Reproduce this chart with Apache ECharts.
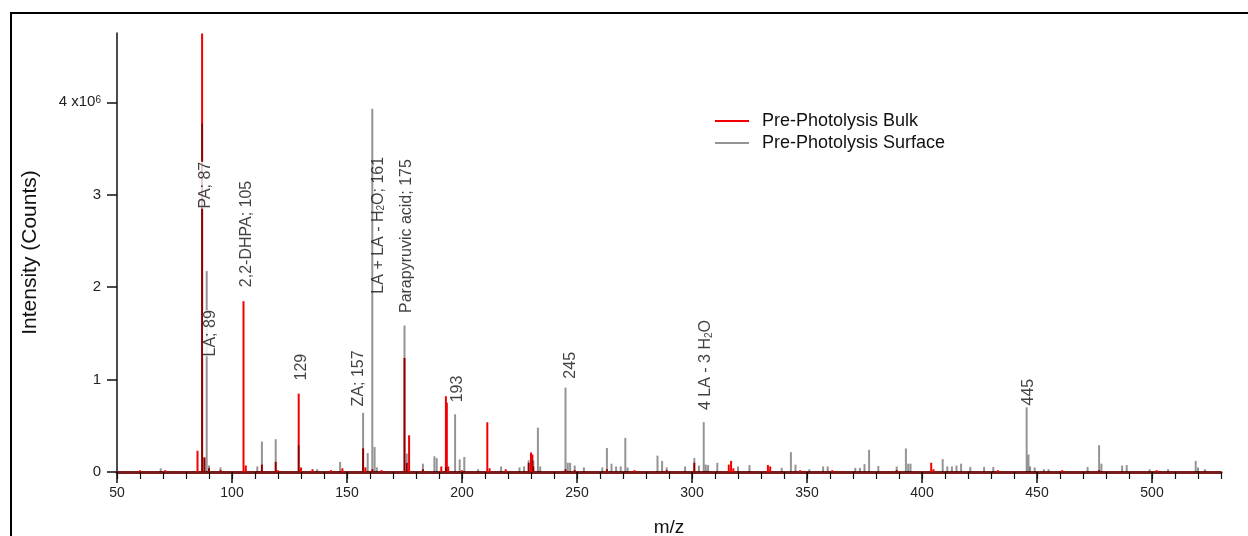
<!DOCTYPE html>
<html>
<head>
<meta charset="utf-8">
<title>Pre-Photolysis Bulk / Surface</title>
<script src="https://cdn.jsdelivr.net/npm/echarts@6/dist/echarts.min.js"></script>
<style>
  html, body { margin: 0; padding: 0; background: #fff; }
  #container { width: 1248px; height: 536px; }
</style>
</head>
<body>
<div id="container"></div>
<script>
// peaks as [m/z, intensity in 10^6 counts]
var bulkPeaks = [
  [60, 0.02], [71, 0.02], [85, 0.23], [87, 4.745], [88, 0.16], [90, 0.04], [95, 0.02],
  [105, 1.848], [106, 0.07], [113, 0.08], [119, 0.11], [120, 0.02], [129, 0.848], [130, 0.05],
  [135, 0.03], [143, 0.02], [148, 0.04], [157, 0.256], [158, 0.05], [161, 0.03], [165, 0.02],
  [175, 1.234], [176, 0.1], [177, 0.397], [183, 0.03], [191, 0.06], [193, 0.82], [193.4, 0.75],
  [194, 0.06], [200, 0.02], [211, 0.538], [212, 0.04], [219, 0.03], [229, 0.1], [230, 0.21],
  [230.6, 0.19], [231, 0.06], [245, 0.03], [249, 0.02], [263, 0.03], [275, 0.02], [289, 0.02],
  [301, 0.1], [316, 0.08], [317, 0.12], [318, 0.04], [333, 0.075], [334, 0.06], [347, 0.02],
  [361, 0.02], [389, 0.02], [404, 0.1], [405, 0.03], [433, 0.02], [461, 0.02], [477, 0.02], [502, 0.02]
];
var surfacePeaks = [
  [69, 0.04], [87, 3.77], [88, 0.15], [89, 2.175], [90, 0.07], [95, 0.05], [111, 0.06],
  [113, 0.33], [119, 0.355], [129, 0.29], [137, 0.03], [147, 0.11], [157, 0.64], [159, 0.205],
  [161, 3.93], [162, 0.27], [163, 0.05], [175, 1.585], [176, 0.2], [183, 0.09], [188, 0.17],
  [189, 0.15], [193, 0.05], [197, 0.625], [199, 0.137], [201, 0.163], [207, 0.03], [217, 0.06],
  [225, 0.05], [227, 0.06], [229, 0.127], [231, 0.126], [233, 0.48], [234, 0.06], [245, 0.913],
  [246, 0.1], [247, 0.1], [249, 0.07], [253, 0.05], [261, 0.05], [263, 0.26], [265, 0.09],
  [267, 0.06], [269, 0.06], [271, 0.37], [272, 0.05], [285, 0.177], [287, 0.12], [289, 0.05],
  [297, 0.06], [301, 0.15], [303, 0.07], [305.1, 0.54], [306, 0.08], [307, 0.075], [311, 0.1],
  [320, 0.06], [325, 0.075], [339, 0.045], [343, 0.215], [345, 0.08], [351, 0.03], [357, 0.06],
  [359, 0.06], [371, 0.045], [373, 0.045], [375, 0.085], [377, 0.24], [381, 0.065], [389, 0.06],
  [393, 0.255], [394, 0.09], [395, 0.09], [409, 0.14], [411, 0.06], [413, 0.06], [415, 0.07],
  [417, 0.09], [421, 0.055], [427, 0.055], [431, 0.055], [445.5, 0.7], [446.3, 0.19], [447, 0.06],
  [449, 0.05], [453, 0.03], [455, 0.03], [472, 0.055], [477, 0.29], [478, 0.09], [487, 0.07],
  [489, 0.075], [499, 0.03], [507, 0.03], [519, 0.12], [520, 0.05], [523, 0.03]
];

// peak tags: text, m/z of the text, intensity where the text starts
var tagText = ['PA; 87', 'LA; 89', '2,2-DHPA; 105', '129', 'ZA; 157', 'LA + LA - H{sub|2}O; 161',
  'Parapyruvic acid; 175', '193', '245', '4 LA - 3 H{sub|2}O', '445'];
var tagMz   = [88.7, 90.9, 106.5, 130.4, 155, 163.7, 175.9, 198, 247.4, 306.1, 446.3];
var tagFrom = [2.85, 1.25, 2.0, 0.99, 0.71, 1.93, 1.72, 0.754, 1.01, 0.67, 0.72];
var opaqueTags = ['PA; 87', 'LA; 89'];

var xTicks = [50, 100, 150, 200, 250, 300, 350, 400, 450, 500];
var yTicks = [0, 1, 2, 3, 4];

var font = 'Liberation Sans, Arial, sans-serif';
var myChart = echarts.init(document.getElementById('container'));

var tagData = tagText.map(function (t, i) {
  var item = { value: [tagMz[i], tagFrom[i]], name: t };
  if (opaqueTags.indexOf(t) >= 0) {
    item.label = { backgroundColor: '#fff' };
  }
  return item;
});

var option = {
  animation: false,
  textStyle: { fontFamily: font },
  graphic: [{
    type: 'rect',
    shape: { x: 11, y: 13, width: 1250, height: 540 },
    style: { fill: 'none', stroke: '#000', lineWidth: 2 },
    silent: true
  }],
  legend: {
    orient: 'vertical',
    left: 710,
    top: 107,
    itemWidth: 34,
    itemHeight: 2,
    itemGap: 4,
    icon: 'rect',
    textStyle: { fontSize: 18, color: '#111', fontFamily: font, padding: [0, 0, 0, 8] },
    data: ['Pre-Photolysis Bulk', 'Pre-Photolysis Surface']
  },
  grid: { left: 117, right: 27, top: 33, bottom: 64, outerBoundsMode: 'none', containLabel: false },
  xAxis: [{
    type: 'value',
    min: 50,
    max: 530,
    interval: 50,
    name: 'm/z',
    nameLocation: 'middle',
    nameGap: 46,
    nameTextStyle: { fontSize: 19, color: '#111', fontFamily: font },
    axisLine: { lineStyle: { color: '#7a1c1c', width: 3 } },
    axisTick: { inside: false, length: 11, customValues: xTicks, lineStyle: { color: '#111', width: 1.5 } },
    axisLabel: { customValues: xTicks, fontSize: 14, color: '#222', margin: 14, fontFamily: font },
    splitLine: { show: false }
  }, {
    type: 'value',
    min: 50,
    max: 530,
    interval: 10,
    position: 'bottom',
    axisLine: { show: false },
    axisTick: { length: 7, lineStyle: { color: '#111', width: 1.2 } },
    axisLabel: { show: false },
    splitLine: { show: false }
  }],
  yAxis: {
    type: 'value',
    min: 0,
    max: 4.75,
    name: 'Intensity (Counts)',
    nameLocation: 'middle',
    nameGap: 76,
    nameTextStyle: { fontSize: 21, color: '#111', fontFamily: font },
    axisLine: { show: true, lineStyle: { color: '#111', width: 1.5 } },
    axisTick: { show: true, length: 10, customValues: yTicks, lineStyle: { color: '#111', width: 1.5 } },
    axisLabel: {
      customValues: yTicks,
      fontSize: 15,
      color: '#222',
      margin: 16,
      fontFamily: font,
      formatter: function (v) { return v === 4 ? '4 x10{sup|6}' : String(v); },
      rich: { sup: { fontSize: 10, verticalAlign: 'top', lineHeight: 10, padding: [0, 0, 8, 0] } }
    },
    splitLine: { show: false }
  },
  series: [{
    name: 'Pre-Photolysis Bulk',
    type: 'bar',
    barWidth: 2,
    barGap: '-100%',
    itemStyle: { color: '#f00000' },
    data: bulkPeaks
  }, {
    name: 'Pre-Photolysis Surface',
    type: 'bar',
    barWidth: 2,
    barGap: '-100%',
    itemStyle: { color: 'rgba(0,0,0,0.42)' },
    data: surfacePeaks
  }, {
    type: 'scatter',
    symbolSize: 1,
    itemStyle: { color: 'transparent' },
    silent: true,
    z: 10,
    label: {
      show: true,
      position: 'inside',
      rotate: 90,
      align: 'left',
      verticalAlign: 'middle',
      fontSize: 16,
      color: '#111',
      fontFamily: font,
      formatter: '{b}',
      rich: { sub: { fontSize: 10, verticalAlign: 'bottom', lineHeight: 10, padding: [6, 0, 0, 0] } }
    },
    data: tagData
  }]
};
myChart.setOption(option);
</script>
</body>
</html>
